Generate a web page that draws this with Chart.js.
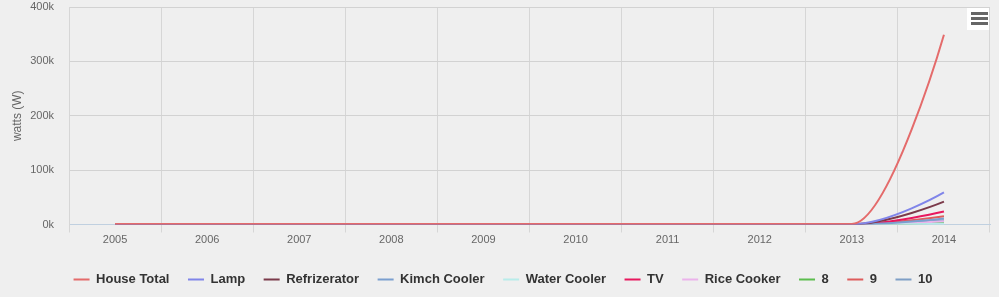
<!DOCTYPE html>
<html>
<head>
<meta charset="utf-8">
<script src="https://cdn.jsdelivr.net/npm/chart.js@4"></script>
<style>
    html, body { margin: 0; padding: 0; background: #efefef; }
    #wrap { width: 999px; height: 297px; position: relative; }
</style>
</head>
<body>
<div id="wrap"><canvas id="myChart"></canvas></div>
<script>
const years = ['2005', '2006', '2007', '2008', '2009', '2010', '2011', '2012', '2013', '2014'];
const houseTotal = [900, 900, 900, 900, 900, 900, 900, 900, 900, 349000];
const lamp = [400, 400, 400, 400, 400, 400, 400, 400, 400, 59000];
const refrizerator = [300, 300, 300, 300, 300, 300, 300, 300, 300, 42000];
const kimchCooler = [200, 200, 200, 200, 200, 200, 200, 200, 200, 11000];
const waterCooler = [100, 100, 100, 100, 100, 100, 100, 100, 100, 1500];
const tv = [300, 300, 300, 300, 300, 300, 300, 300, 300, 24000];
const riceCooker = [200, 200, 200, 200, 200, 200, 200, 200, 200, 6000];
const s8 = [100, 100, 100, 100, 100, 100, 100, 100, 100, 3500];
const s9 = [300, 300, 300, 300, 300, 300, 300, 300, 300, 15000];
const s10 = [400, 400, 400, 400, 400, 400, 400, 400, 400, 8000];
const yTicks = [0, 100000, 200000, 300000, 400000];

const series = [
    ['House Total', houseTotal, '#e46b6b'],
    ['Lamp', lamp, '#8085e9'],
    ['Refrizerator', refrizerator, '#7b3a4a'],
    ['Kimch Cooler', kimchCooler, '#7b9fcf'],
    ['Water Cooler', waterCooler, '#b8ecea'],
    ['TV', tv, '#e8185e'],
    ['Rice Cooker', riceCooker, '#ebb3eb'],
    ['8', s8, '#5cbd4e'],
    ['9', s9, '#de5c5c'],
    ['10', s10, '#7f9fc6'],
];

const data = {
    labels: years,
    datasets: series.map(s => ({
        label: s[0],
        data: s[1],
        borderColor: s[2],
        backgroundColor: s[2],
        borderWidth: 2,
        pointRadius: 0,
        pointHoverRadius: 0,
        fill: false,
        tension: 0.4,
    }))
};

// smoothing like a highcharts "spline": control points 1.5/2.5 of the way,
// kept between the neighbours so the curve never overshoots
const splineSmooth = {
    id: 'splineSmooth',
    beforeDatasetsDraw(chart) {
        chart.data.datasets.forEach((ds, di) => {
            const meta = chart.getDatasetMeta(di);
            meta.dataset.updateControlPoints(chart.chartArea, 'x');
            const pts = meta.data;
            pts.forEach((p, i) => {
                if (i === 0 || i === pts.length - 1) {
                    p.cp1x = p.x; p.cp1y = p.y;
                    p.cp2x = p.x; p.cp2y = p.y;
                    return;
                }
                const last = pts[i - 1], next = pts[i + 1];
                const lx = (1.5 * p.x + last.x) / 2.5;
                let ly = (1.5 * p.y + last.y) / 2.5;
                const rx = (1.5 * p.x + next.x) / 2.5;
                let ry = (1.5 * p.y + next.y) / 2.5;
                const corr = ((ry - ly) * (rx - p.x)) / (rx - lx) + p.y - ry;
                ly += corr;
                ry += corr;
                if (ly > Math.max(last.y, p.y)) {
                    ly = Math.max(last.y, p.y); ry = 2 * p.y - ly;
                } else if (ly < Math.min(last.y, p.y)) {
                    ly = Math.min(last.y, p.y); ry = 2 * p.y - ly;
                }
                if (ry > Math.max(next.y, p.y)) {
                    ry = Math.max(next.y, p.y); ly = 2 * p.y - ry;
                } else if (ry < Math.min(next.y, p.y)) {
                    ry = Math.min(next.y, p.y); ly = 2 * p.y - ry;
                }
                p.cp1x = lx; p.cp1y = ly;
                p.cp2x = rx; p.cp2y = ry;
            });
        });
    }
};

// nudge the legend row a bit to the right, like the original
const legendShift = {
    id: 'legendShift',
    afterLayout(chart) {
        chart.legend.left += 8;
        chart.legend.right += 8;
    }
};

// little export-menu button in the top right corner
const menuButton = {
    id: 'menuButton',
    afterDraw(chart) {
        const ctx = chart.ctx;
        const r = chart.chartArea.right;
        const t = chart.chartArea.top;
        ctx.save();
        ctx.fillStyle = '#ffffff';
        ctx.fillRect(r - 23, t + 1, 22, 22);
        ctx.fillStyle = '#666666';
        for (let i = 0; i < 3; i++) {
            ctx.fillRect(r - 19, t + 5 + i * 5, 17, 3);
        }
        ctx.restore();
    }
};

Chart.defaults.font.family = '"Liberation Sans", Arial, sans-serif';
Chart.defaults.color = '#666666';

const config = {
    type: 'line',
    data: data,
    plugins: [splineSmooth, legendShift, menuButton],
    options: {
        animation: false,
        maintainAspectRatio: false,
        responsive: true,
        layout: {
            padding: { top: 7, right: 9, left: 0, bottom: 1 }
        },
        plugins: {
            legend: {
                position: 'bottom',
                labels: {
                    usePointStyle: true,
                    pointStyle: 'line',
                    pointStyleWidth: 16,
                    padding: 18.5,
                    color: '#333333',
                    font: { size: 13, weight: 'bold' }
                }
            },
            tooltip: { enabled: false },
            title: { display: false }
        },
        scales: {
            x: {
                offset: true,
                grid: {
                    offset: true,
                    color: '#d6d6d6',
                    tickLength: 8,
                    tickColor: '#d6d6d6'
                },
                border: { color: '#c0d0e0', width: 1 },
                ticks: {
                    padding: 1,
                    color: '#666666',
                    font: { size: 11 },
                    maxRotation: 0
                },
                afterFit(scale) { scale.height = 30; }
            },
            y: {
                min: 0,
                max: 400000,
                afterBuildTicks(scale) {
                    scale.ticks = yTicks.map(v => ({ value: v }));
                },
                grid: {
                    color: '#d2d2d2',
                    drawTicks: false
                },
                border: { color: '#d6d6d6' },
                ticks: {
                    padding: 15,
                    color: '#666666',
                    font: { size: 11 },
                    callback: v => (v / 1000) + 'k'
                },
                title: {
                    display: true,
                    text: 'watts (W)',
                    color: '#666666',
                    font: { size: 12 },
                    padding: { top: 10, bottom: 0 }
                },
                afterFit(scale) {
                    scale.width = 69;
                    scale.paddingTop = 0;
                    scale.paddingBottom = 0;
                }
            }
        }
    }
};

const myChart = new Chart(
    document.getElementById('myChart'),
    config
);
</script>
</body>
</html>
